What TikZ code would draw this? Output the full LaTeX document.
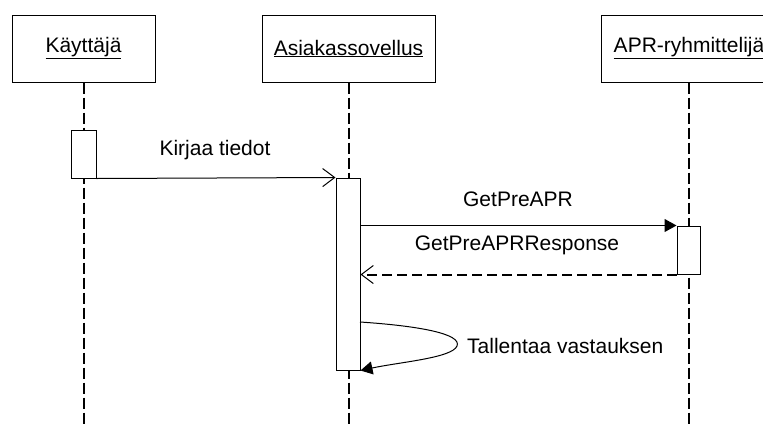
\documentclass[tikz,border=0pt]{standalone}
\usepackage{fontspec}
\setmainfont{Liberation Sans}
\usetikzlibrary{arrows.meta}

\tikzset{
  participant/.style={draw=black, line width=1pt, fill=white, minimum height=67pt, inner sep=0pt},
  activation/.style={draw=black, line width=1pt, fill=white, inner sep=0pt},
  lifeline/.style={draw=black, line width=2pt, dash pattern=on 11pt off 4pt},
  msg/.style={draw=black, line width=1pt},
  reply/.style={draw=black, line width=2pt, dash pattern=on 10pt off 5pt},
  openhead/.style={-{Straight Barb[length=12pt,width=18pt,line width=1pt]}},
  filledhead/.style={-{Triangle[length=12pt,width=13pt]}},
  lbl/.style={inner sep=0pt, font=\fontsize{21}{25}\selectfont}
}

\begin{document}
\begin{tikzpicture}[x=1pt,y=-1pt]
  \clip (0,0) rectangle (763,426);
  \fill[white] (0,0) rectangle (763,426);

  % participants
  \node[participant, minimum width=143pt, lbl] (user) at (83.5,48.5) {\underline{Käyttäjä}};
  \node[participant, minimum width=173pt, lbl] (client) at (348.5,48.5) {\underline{Asiakassovellus}};
  \node[participant, minimum width=176pt, lbl] (apr) at (689,48.5) {\underline{APR-ryhmittelijä}};

  % lifeline ends
  \coordinate (userEnd) at (83.5,426);
  \coordinate (clientEnd) at (348.5,426);
  \coordinate (aprEnd) at (689,426);

  \draw[lifeline] (user.south) -- (userEnd);
  \draw[lifeline] (client.south) -- (clientEnd);
  \draw[lifeline] (apr.south) -- (aprEnd);

  % activation bars
  \node[activation, minimum width=25pt, minimum height=48pt] (act1) at (83.5,154) {};
  \node[activation, minimum width=24pt, minimum height=192pt] (act2) at (348,274) {};
  \node[activation, minimum width=23pt, minimum height=48pt] (act3) at (688.5,250) {};

  % Kirjaa tiedot
  \draw[msg, openhead] (act1.south east) -- (act2.north west);
  \node[lbl] (m1) at (215,150) {Kirjaa tiedot};

  % GetPreAPR
  \coordinate (callStart) at (act3.north west -| act2.east);
  \draw[msg, filledhead] (callStart) -- (act3.north west);
  \node[lbl] (m2) at (518,199) {GetPreAPR};

  % GetPreAPRResponse
  \coordinate (replyEnd) at (act3.south west -| act2.east);
  \draw[reply, openhead] (act3.south west) -- (replyEnd);
  \node[lbl] (m3) at (517,245) {GetPreAPRResponse};

  % self message
  \coordinate (selfStart) at (360,322);
  \coordinate (selfTip) at (457,346);
  \draw[msg] (selfStart) .. controls (420,326) and (462,334) .. (selfTip);
  \draw[msg, filledhead] (selfTip) .. controls (452,358) and (400,362) .. (act2.south east);
  \node[lbl, anchor=west] (m4) at (467,346) {Tallentaa vastauksen};
\end{tikzpicture}
\end{document}
